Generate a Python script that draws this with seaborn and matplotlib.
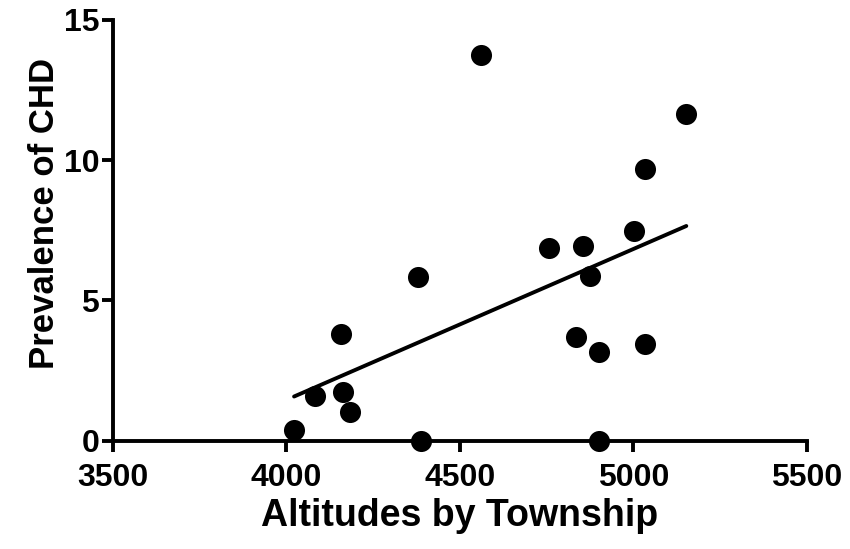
import pandas as pd
import matplotlib
matplotlib.use('Agg')
import matplotlib.pyplot as plt
import seaborn as sns

# values
altitude = [4022, 4082, 4156, 4164, 4183, 4379, 4389, 4562, 4757,
            4855, 5001, 4875, 4836, 4901, 5034, 4901, 5153, 5035]
prevalence = [0.39, 1.58, 3.79, 1.73, 1.02, 5.82, 0.0, 13.76, 6.88,
              6.94, 7.48, 5.89, 3.70, 3.15, 3.46, 0.0, 11.64, 9.68]
x_ticks = [3500, 4000, 4500, 5000, 5500]
y_ticks = [0, 5, 10, 15]

df = pd.DataFrame({'altitude': altitude, 'prevalence': prevalence})

sns.set_style('ticks')
plt.rcParams['font.family'] = ['Liberation Sans', 'DejaVu Sans']
plt.rcParams['font.weight'] = 'bold'

fig = plt.figure(figsize=(8.5, 5.49), dpi=100)
ax = fig.add_axes([0.133, 0.197, 0.816, 0.767])

sns.regplot(x='altitude', y='prevalence', data=df, ax=ax, ci=None,
            color='black',
            scatter_kws={'s': 230, 'alpha': 1, 'clip_on': False,
                         'zorder': 5, 'linewidths': 0},
            line_kws={'linewidth': 2.8})

ax.set_xlim(3500, 5500)
ax.set_ylim(0, 15)
ax.set_xticks(x_ticks)
ax.set_yticks(y_ticks)
sns.despine(ax=ax)
for side in ['left', 'bottom']:
    ax.spines[side].set_linewidth(2.8)
    ax.spines[side].set_color('black')
ax.tick_params(axis='both', width=2.8, length=8, labelsize=23,
               colors='black')
ax.tick_params(axis='x', pad=8)
ax.tick_params(axis='y', pad=2)

ax.set_xlabel('Altitudes by Township', fontsize=27, fontweight='bold',
              color='black')
ax.set_ylabel('Prevalence of CHD', fontsize=25, fontweight='bold',
              color='black')
ax.xaxis.set_label_coords(0.5, -0.135)
ax.yaxis.set_label_coords(-0.075, 0.54)

fig.savefig('out.png', dpi=100)
